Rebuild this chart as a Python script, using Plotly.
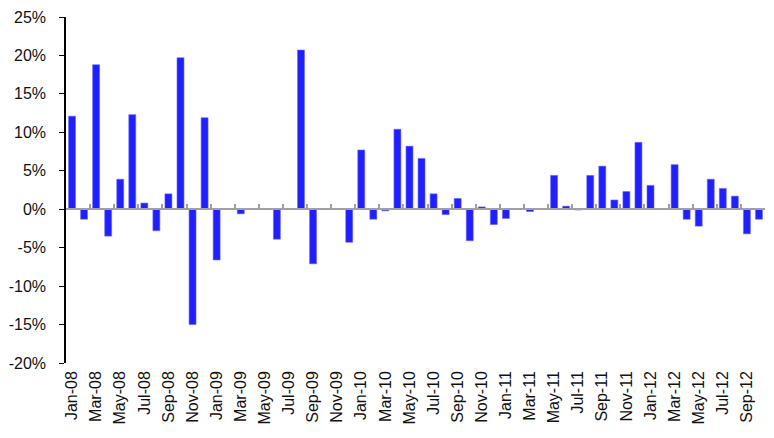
import plotly.graph_objects as go

months = ["Jan-08","Feb-08","Mar-08","Apr-08","May-08","Jun-08","Jul-08","Aug-08","Sep-08","Oct-08","Nov-08","Dec-08",
          "Jan-09","Feb-09","Mar-09","Apr-09","May-09","Jun-09","Jul-09","Aug-09","Sep-09","Oct-09","Nov-09","Dec-09",
          "Jan-10","Feb-10","Mar-10","Apr-10","May-10","Jun-10","Jul-10","Aug-10","Sep-10","Oct-10","Nov-10","Dec-10",
          "Jan-11","Feb-11","Mar-11","Apr-11","May-11","Jun-11","Jul-11","Aug-11","Sep-11","Oct-11","Nov-11","Dec-11",
          "Jan-12","Feb-12","Mar-12","Apr-12","May-12","Jun-12","Jul-12","Aug-12","Sep-12","Oct-12"]

values = [12.1, -1.3, 18.8, -3.5, 3.9, 12.3, 0.8, -2.8, 2.0, 19.7, -15.0, 11.9,
          -6.6, 0.0, -0.6, 0.0, 0.0, -3.9, 0.0, 20.7, -7.1, 0.0, 0.0, -4.3,
          7.7, -1.3, -0.2, 10.4, 8.2, 6.6, 2.0, -0.7, 1.4, -4.1, 0.3, -2.0,
          -1.2, 0.0, -0.3, 0.0, 4.4, 0.4, -0.1, 4.4, 5.6, 1.2, 2.3, 8.7,
          3.1, 0.0, 5.8, -1.3, -2.2, 3.9, 2.7, 1.7, -3.2, -1.3]

y_ticks = [-20, -15, -10, -5, 0, 5, 10, 15, 20, 25]
y_tick_labels = ["-20%", "-15%", "-10%", "-5%", "0%", "5%", "10%", "15%", "20%", "25%"]

idx = list(range(len(months)))
label_pos = idx[::2]
label_text = months[::2]
boundary_pos = [i - 0.5 for i in idx[::2]] + [len(months) - 0.5]

ymin, ymax = y_ticks[0], y_ticks[-1]
zero_frac = (0 - ymin) / (ymax - ymin)

fig = go.Figure()
fig.add_trace(go.Bar(x=idx, y=values, width=0.58,
                     marker=dict(color="#2020ff", line=dict(width=0.6, color="#6a6aff"))))

font = dict(family="Liberation Sans, Arial, sans-serif", size=16, color="#111111")

# page body has an 8px default margin, so the figure is 8px smaller and margins offset
fig.update_layout(
    width=766, height=430,
    margin=dict(l=58, r=9, t=9, b=75, autoexpand=False),
    paper_bgcolor="white", plot_bgcolor="white",
    showlegend=False,
    font=font,
    xaxis=dict(range=[-0.5, len(months) - 0.5], tickmode="array",
               tickvals=label_pos, ticktext=label_text, tickangle=-90,
               showline=False, ticks="", showgrid=False, zeroline=False,
               tickfont=font, automargin=False, ticklabelstandoff=4,
               ticklabeloverflow="allow"),
    xaxis2=dict(range=[-0.5, len(months) - 0.5], overlaying="x", anchor="free",
                position=zero_frac, side="bottom", tickmode="array",
                tickvals=boundary_pos, showticklabels=False,
                showline=True, linecolor="#a0a0a0", linewidth=2,
                ticks="inside", ticklen=4, tickwidth=1.5, tickcolor="#a0a0a0",
                showgrid=False, zeroline=False, automargin=False),
    yaxis=dict(range=[ymin, ymax], tickmode="array", tickvals=y_ticks,
               ticktext=y_tick_labels, showline=True, linecolor="black",
               linewidth=1.5, ticks="outside", ticklen=5, tickcolor="black",
               showgrid=False, zeroline=False, tickfont=font, automargin=False,
               ticklabelstandoff=10, ticklabeloverflow="allow"),
)
fig.add_trace(go.Scatter(x=[idx[0]], y=[0], xaxis="x2", mode="markers",
                         marker=dict(opacity=0), hoverinfo="skip"))

fig.write_html("out.html")
